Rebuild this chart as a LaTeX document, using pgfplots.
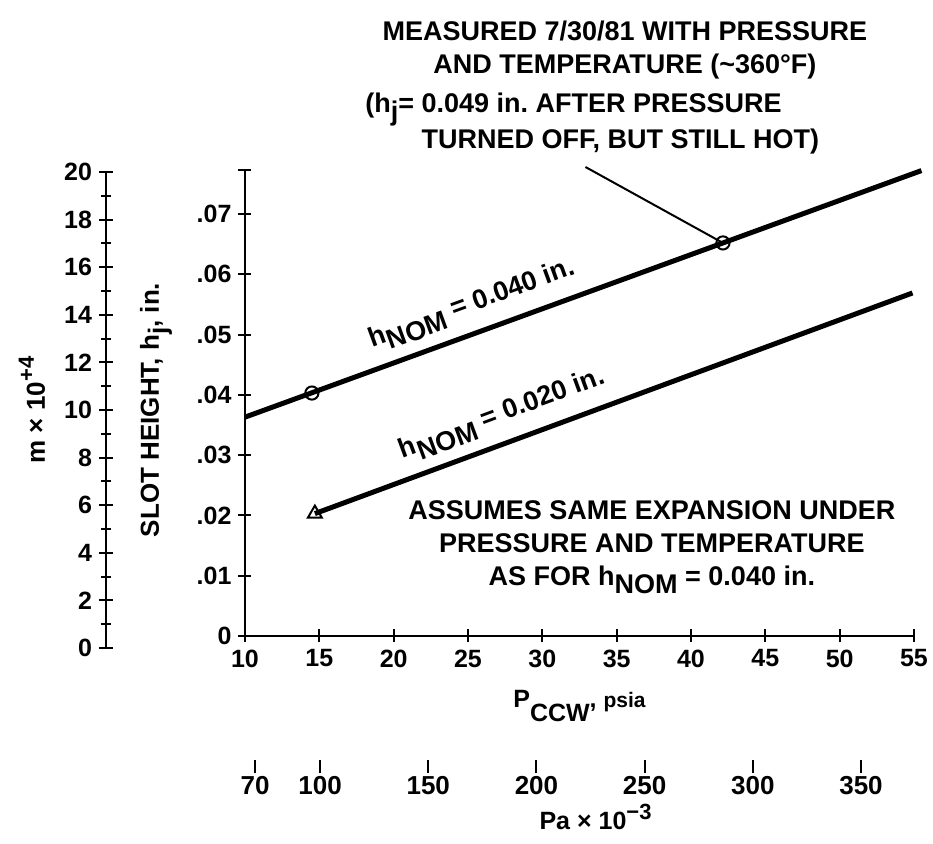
\documentclass[border=0pt]{standalone}
\usepackage{fontspec}
\setmainfont{Liberation Sans}
\usepackage{pgfplots}
\pgfplotsset{compat=1.18}

% lowered subscripts, as in the old typewritten figure
\newcommand{\sub}[1]{\raisebox{-0.3em}{#1}}
\newcommand{\annfont}{\fontsize{13.5}{16.5}\selectfont\bfseries}
\newcommand{\tickfont}{\fontsize{12.5}{12.5}\selectfont\bfseries}

\pgfplotsset{
  every axis/.append style={
    scale only axis,
    /pgf/number format/assume math mode=true,
    tick label style={font=\tickfont},
    tick style={black, line width=1pt},
    tick align=inside,
  },
}

\begin{document}
\begin{tikzpicture}[font=\bfseries]
% same frame as the 933x844 reference (origin = main axis corner)
\useasboundingbox (-122.5pt,-104pt) rectangle (344pt,318pt);

% m x 10^4 scale on the far left
\begin{axis}[
  at={(-69.5pt,-6pt)}, anchor=south west,
  width=1pt, height=238pt,
  xmin=0, xmax=1, ymin=0, ymax=20,
  axis y line=left, axis x line=none,
  axis line style={-, line width=1.4pt},
  ytick pos=left,
  ytick={0,2,...,20}, minor ytick={1,3,...,19},
  major tick length=7pt, minor tick length=5pt,
  ylabel={m × 10\raisebox{0.8ex}{\fontsize{11}{11}\selectfont +4}},
  ylabel style={at={(axis description cs:-37,0.5)}, anchor=center,
    font=\fontsize{13}{13}\selectfont\bfseries},
]
\end{axis}

% Pa x 10^-3 scale below
\begin{axis}[
  at={(0pt,-65.5pt)}, anchor=south west,
  width=334.5pt, height=10pt,
  xmin=65.3, xmax=374.5, ymin=0, ymax=1,
  axis x line=bottom, hide y axis,
  axis line style={draw=none},
  xtick={70,100,150,200,250,300,350},
  major tick length=6.5pt,
  tick label style={font=\fontsize{13}{13}\selectfont\bfseries},
  xticklabel style={yshift=2pt},
  xlabel={Pa × 10\raisebox{0.8ex}{\fontsize{11}{11}\selectfont −3}},
  xlabel style={at={(axis description cs:0.524,0)}, anchor=center, yshift=-25pt,
    font=\fontsize{12.5}{12.5}\selectfont\bfseries},
]
\end{axis}

% main plot
\begin{axis}[
  at={(0pt,0pt)}, anchor=south west,
  width=334.5pt, height=233pt,
  xmin=10, xmax=55, ymin=0, ymax=0.0773,
  axis lines=left,
  axis line style={-, line width=1.4pt},
  clip=false,
  major tick length=6.5pt,
  scaled y ticks=false,
  xtick={10,15,...,55},
  ytick={0,0.01,0.02,0.03,0.04,0.05,0.06,0.07},
  yticklabels={0,.01,.02,.03,.04,.05,.06,.07},
  extra y ticks={0.0773}, extra y tick labels={},
  xlabel={P\raisebox{-0.55em}{CCW}, {\fontsize{10.5}{10.5}\selectfont psia}},
  xlabel style={at={(axis description cs:0.5,-0.15)}, anchor=center,
    font=\fontsize{12.5}{12.5}\selectfont\bfseries},
  ylabel={SLOT HEIGHT, h\sub{j}, in.},
  ylabel style={at={(axis description cs:-0.133,0.485)}, anchor=center,
    font=\fontsize{13}{13}\selectfont\bfseries},
]
% h_NOM = 0.040 in.
\addplot[line width=2.5pt] coordinates {(10,0.0363) (55.5,0.0772)}
  node[pos=0.35, sloped, above=2pt, font=\annfont] {h\sub{NOM} = 0.040 in.};
% h_NOM = 0.020 in.
\addplot[line width=2.5pt] coordinates {(14.7,0.0203) (54.9,0.0569)}
  node[pos=0.33, sloped, above=2pt, font=\annfont] {h\sub{NOM} = 0.020 in.};
% leader to the measured point
\addplot[line width=1pt] coordinates {(32.9,0.0778) (42.15,0.0652)};
% measured points
\addplot[only marks, mark=o, mark size=3.3pt,
  mark options={fill=white, line width=1pt}]
  coordinates {(14.5,0.0403) (42.15,0.0652)};
\addplot[only marks, mark=triangle, mark size=4pt,
  mark options={fill=white, line width=1pt}]
  coordinates {(14.7,0.0203)};

\node[align=center, font=\annfont] at (axis cs:35.55,0.0972)
  {MEASURED 7/30/81 WITH PRESSURE\\AND TEMPERATURE (\textasciitilde360°F)};
\node[anchor=west, font=\fontsize{13.5}{16}\selectfont\bfseries, inner sep=0pt]
  at (axis cs:18.07,0.0849)
  {\begin{tabular}{@{}l@{ }l@{}}(h\sub{j}= & 0.049 in.\ AFTER PRESSURE\\
   & TURNED OFF, BUT STILL HOT)\end{tabular}};
\node[align=center, font=\annfont] at (axis cs:37.37,0.0148)
  {ASSUMES SAME EXPANSION UNDER\\PRESSURE AND TEMPERATURE\\AS FOR h\sub{NOM} = 0.040 in.};
\end{axis}
\end{tikzpicture}
\end{document}
